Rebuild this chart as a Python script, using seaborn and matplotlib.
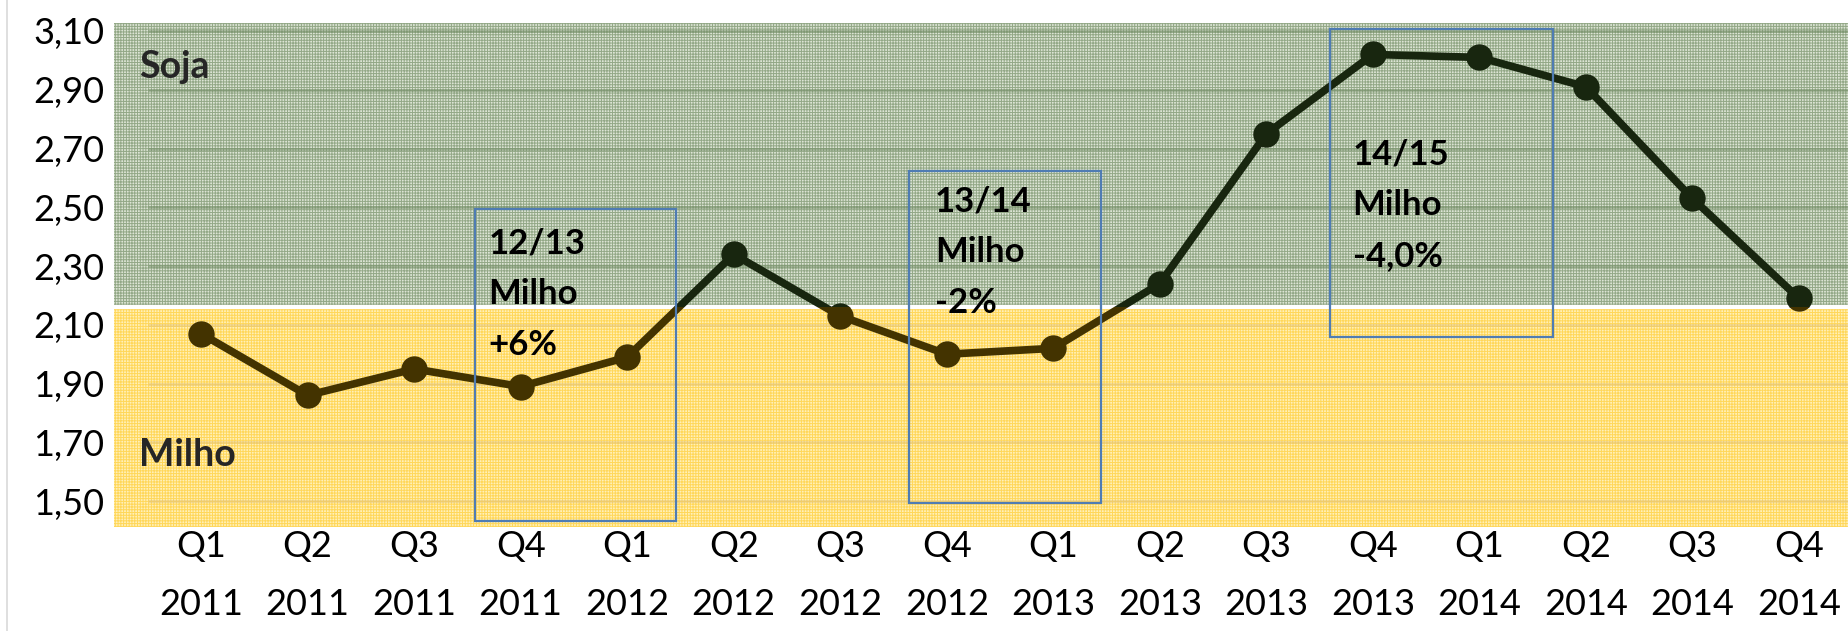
import matplotlib
matplotlib.use('Agg')
import matplotlib.pyplot as plt
import matplotlib.patches as mpatches
from matplotlib.lines import Line2D
import numpy as np
import pandas as pd
import seaborn as sns

# Data
quarters = ['Q1', 'Q2', 'Q3', 'Q4'] * 4
years = ['2011'] * 4 + ['2012'] * 4 + ['2013'] * 4 + ['2014'] * 4
ratio = [2.07, 1.86, 1.95, 1.89, 1.99, 2.34, 2.13, 2.00,
         2.02, 2.24, 2.75, 3.02, 3.01, 2.91, 2.53, 2.19]
ytick_vals = [1.50, 1.70, 1.90, 2.10, 2.30, 2.50, 2.70, 2.90, 3.10]
ytick_labels = ['1,50', '1,70', '1,90', '2,10', '2,30', '2,50', '2,70', '2,90', '3,10']
boundary = 2.16  # soja above / milho below

# annotation boxes: (x0, x1, y0, y1) in data units, text
box_x0 = [2.57, 6.65, 10.60]
box_x1 = [4.46, 8.45, 12.69]
box_y0 = [1.432, 1.493, 2.059]
box_y1 = [2.493, 2.625, 3.105]
box_text = ['12/13\nMilho\n+6%', '13/14\nMilho\n-2%', '14/15\nMilho\n-4,0%']
text_x = [2.70, 6.89, 10.81]
text_y = [2.205, 2.347, 2.507]

df = pd.DataFrame({'x': np.arange(len(ratio)), 'ratio': ratio,
                   'label': [q + '\n' + y for q, y in zip(quarters, years)]})

sns.set_style('white')
plt.rcParams['font.family'] = ['Lato', 'DejaVu Sans']
plt.rcParams['hatch.linewidth'] = 0.7

fig = plt.figure(figsize=(18.49, 6.31), dpi=100)
ax = fig.add_axes([0.0617, 0.1648, 0.9383, 0.7987])
xmin, xmax = -0.817, 15.47
ymin, ymax = 1.412, 3.127
ax.set_xlim(xmin, xmax)
ax.set_ylim(ymin, ymax)

# background bands with a fine grid texture
green = mpatches.Rectangle((xmin, boundary), xmax - xmin, ymax - boundary,
                           facecolor='#dce4d4', edgecolor='#93a887', hatch='++++++',
                           lw=0, zorder=0)
yellow = mpatches.Rectangle((xmin, ymin), xmax - xmin, boundary - ymin,
                            facecolor='#fff0b8', edgecolor='#ffd75a', hatch='++++++',
                            lw=0, zorder=0)
ax.add_patch(green)
ax.add_patch(yellow)

# gridlines
for v in ytick_vals:
    c = '#6f8a62' if v > boundary else '#e0c27a'
    ax.hlines(v, -0.5, xmax, color=c, lw=2, alpha=0.5, zorder=1)
ax.axhline(boundary, color='white', lw=3, zorder=1.5)

# the line, coloured by band
sns.lineplot(data=df, x='x', y='ratio', ax=ax, color='#18260f', lw=5.5,
             marker='o', markersize=19, markeredgewidth=0, zorder=3)
ax.lines[-1].set_clip_path(green)
sns.lineplot(data=df, x='x', y='ratio', ax=ax, color='#433300', lw=5.5,
             marker='o', markersize=19, markeredgewidth=0, zorder=3)
ax.lines[-1].set_clip_path(yellow)

# annotation boxes
for x0, x1, y0, y1 in zip(box_x0, box_x1, box_y0, box_y1):
    ax.add_patch(mpatches.Rectangle((x0, y0), x1 - x0, y1 - y0, fill=False,
                                    edgecolor='#4f7cb3', lw=1.6, zorder=4))
for tx, ty, t in zip(text_x, text_y, box_text):
    ax.text(tx, ty, t, fontsize=25, fontweight='bold', va='center', ha='left',
            linespacing=1.72, color='black', zorder=5)

ax.text(-0.58, 2.978, 'Soja', fontsize=27, fontweight='bold', va='center', zorder=5)
ax.text(-0.58, 1.656, 'Milho', fontsize=27, fontweight='bold', va='center', zorder=5)

ax.set_yticks(ytick_vals)
ax.set_yticklabels(ytick_labels)
ax.set_xticks(df['x'])
ax.set_xticklabels(df['label'], linespacing=1.95)
ax.tick_params(axis='both', length=0, labelsize=26, colors='black')
ax.tick_params(axis='x', pad=2)
ax.tick_params(axis='y', pad=7)
ax.set_xlabel('')
ax.set_ylabel('')
for s in ax.spines.values():
    s.set_visible(False)

fig.add_artist(Line2D([7 / 1849, 7 / 1849], [0, 1], color='#d9d9d9', lw=1.2))

fig.savefig('out.png', dpi=100)
